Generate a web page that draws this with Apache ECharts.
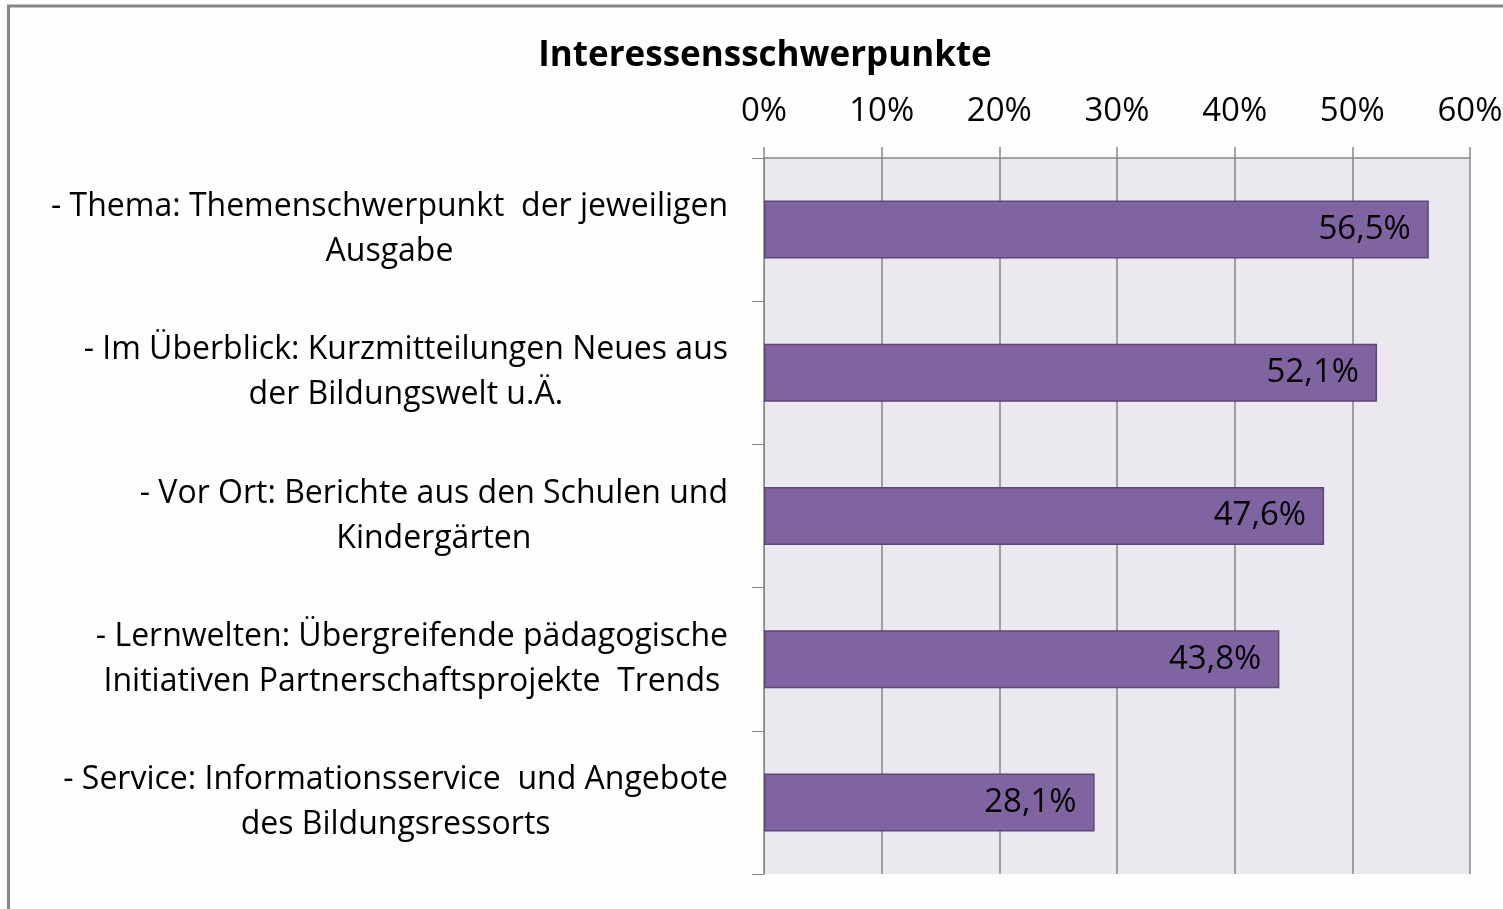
<!DOCTYPE html>
<html>
<head>
<meta charset="utf-8">
<script src="https://cdn.jsdelivr.net/npm/echarts@6/dist/echarts.min.js"></script>
<style>
  html, body { margin: 0; padding: 0; background: #fefefe; }
  #chart { width: 1503px; height: 909px; }
</style>
</head>
<body>
<div id="chart"></div>
<script>
  const categories = [
    '- Thema: Themenschwerpunkt  der jeweiligen\nAusgabe',
    '- Im Überblick: Kurzmitteilungen Neues aus\nder Bildungswelt u.Ä.',
    '- Vor Ort: Berichte aus den Schulen und\nKindergärten',
    '- Lernwelten: Übergreifende pädagogische\nInitiativen Partnerschaftsprojekte  Trends',
    '- Service: Informationsservice  und Angebote\ndes Bildungsressorts',
  ];
  const values = [56.5, 52.1, 47.6, 43.8, 28.1];
  const axisMax = 60;
  const axisStep = 10;

  const font = '"Open Sans", sans-serif';
  const chart = echarts.init(document.getElementById('chart'));

  chart.setOption({
    backgroundColor: '#fefefe',
    animation: false,
    title: {
      text: 'Interessensschwerpunkte',
      left: 760,
      top: 34,
      textAlign: 'center',
      textStyle: { fontFamily: font, fontSize: 35, fontWeight: 'bold', color: '#000' },
    },
    graphic: [
      {
        type: 'rect',
        shape: { x: 8.5, y: 6, width: 1600, height: 1000 },
        style: { fill: 'none', stroke: '#878787', lineWidth: 3 },
        silent: true,
      },
    ],
    grid: {
      left: 764,
      right: 33,
      top: 158,
      bottom: 35,
      show: true,
      backgroundColor: '#ebe9ef',
      borderWidth: 0,
      outerBoundsMode: 'none',
    },
    xAxis: {
      type: 'value',
      position: 'top',
      min: 0,
      max: axisMax,
      interval: axisStep,
      axisLine: { show: true, lineStyle: { color: '#868686', width: 1.5 } },
      axisTick: { show: true, length: 11, lineStyle: { color: '#868686', width: 1.5 } },
      axisLabel: {
        formatter: '{value}%',
        fontFamily: font,
        fontSize: 33,
        color: '#000',
        margin: 30,
      },
      splitLine: { show: true, lineStyle: { color: '#868686', width: 1.5 } },
    },
    yAxis: {
      type: 'category',
      data: categories,
      inverse: true,
      axisLine: { show: true, lineStyle: { color: '#868686', width: 1 } },
      axisTick: { show: true, length: 12, lineStyle: { color: '#868686', width: 1 } },
      axisLabel: {
        margin: 36,
        align: 'right',
        lineHeight: 45,
        formatter: (v) => v.split('\n').map((s) => '{c|' + s + '}').join('\n'),
        rich: {
          c: {
            align: 'center',
            fontFamily: font,
            fontSize: 32,
            color: '#000',
            lineHeight: 45,
          },
        },
      },
    },
    series: [
      {
        type: 'bar',
        data: values,
        barWidth: 58,
        itemStyle: { color: '#8064a2', borderColor: '#5c4776', borderWidth: 1.5 },
        label: {
          show: true,
          position: 'insideRight',
          distance: 18,
          formatter: (p) => p.value.toFixed(1).replace('.', ',') + '%',
          fontFamily: font,
          fontSize: 33,
          color: '#000',
        },
      },
    ],
  });
</script>
</body>
</html>
